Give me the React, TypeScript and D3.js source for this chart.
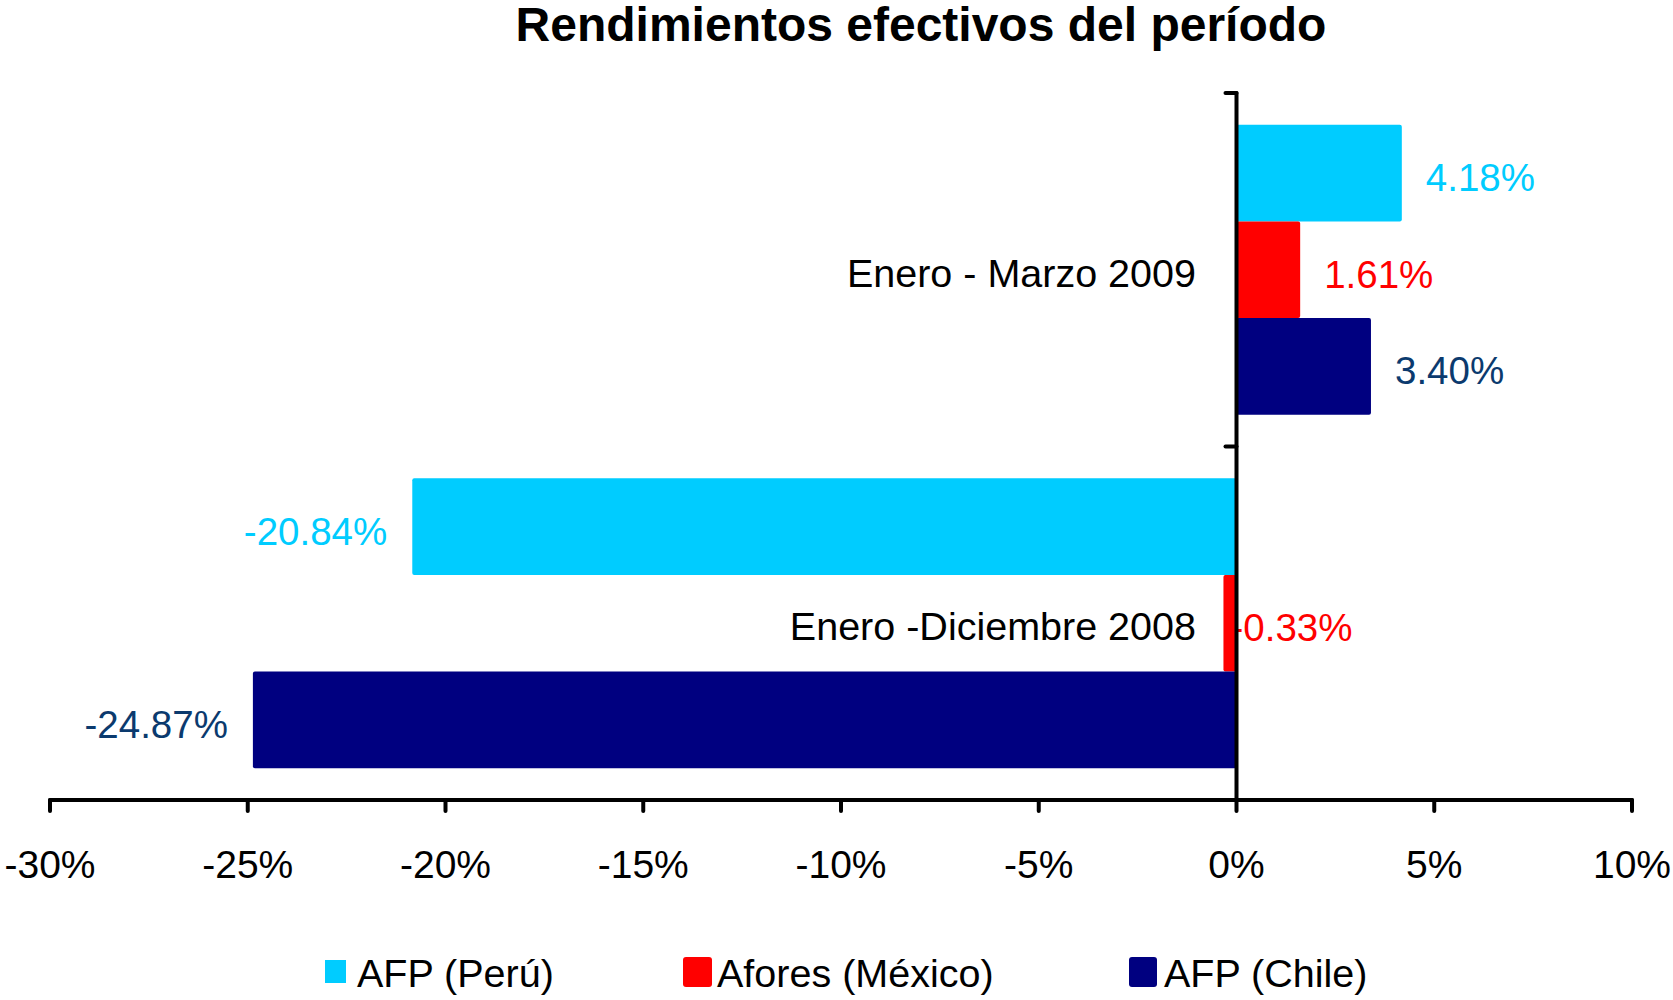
import React from 'react';
import * as d3 from 'd3';

// data
const categories = ['Enero - Marzo 2009', 'Enero -Diciembre 2008'];
const seriesNames = ['AFP (Perú)', 'Afores (México)', 'AFP (Chile)'];
const peru = [4.18, -20.84];
const mexico = [1.61, -0.33];
const chile = [3.4, -24.87];
const xTicks = [-30, -25, -20, -15, -10, -5, 0, 5, 10];

const seriesValues = [peru, mexico, chile];
const barColors = ['#00CCFF', '#FF0000', '#000080'];
const labelColors = ['#00CCFF', '#FF0000', '#0B3A6E'];

const W = 1673;
const H = 1000;
const FONT = '"Liberation Sans", Arial, sans-serif';

const App = () => {
  const x = d3.scaleLinear().domain([-30, 10]).range([50, 1632]);
  const y = d3.scaleBand().domain(categories).range([93, 800]).paddingInner(0).paddingOuter(0);
  const inner = d3.scaleBand().domain(seriesNames).range([0, y.bandwidth()]).paddingInner(0).paddingOuter(0.33);
  const x0 = x(0);

  const fmt = (v: number) => `${v.toFixed(2)}%`;

  // legend layout
  const legendItems = [
    { sq: 325, w: 21, h: 23, top: 960, tx: 357, rx: 0 },
    { sq: 683, w: 29, h: 30, top: 957, tx: 717, rx: 3 },
    { sq: 1129, w: 28, h: 30, top: 957, tx: 1164, rx: 3 },
  ];

  return (
    <svg width={W} height={H} style={{ position: 'absolute', left: 0, top: 0, background: '#fff' }} fontFamily={FONT}>
      <text x={921} y={41} textAnchor="middle" fontSize={48} fontWeight="bold" fill="#000">
        Rendimientos efectivos del período
      </text>

      {/* bars */}
      {seriesValues.map((vals, si) =>
        vals.map((v, ci) => {
          const by = (y(categories[ci]) as number) + (inner(seriesNames[si]) as number);
          const bh = inner.bandwidth();
          return (
            <rect
              key={`b${si}-${ci}`}
              x={Math.min(x(v), x0)}
              y={by}
              width={Math.abs(x(v) - x0)}
              height={bh}
              rx={2}
              fill={barColors[si]}
            />
          );
        })
      )}

      {/* value labels */}
      {seriesValues.map((vals, si) =>
        vals.map((v, ci) => {
          const cy = (y(categories[ci]) as number) + (inner(seriesNames[si]) as number) + inner.bandwidth() / 2;
          const small = v < 0 && v > -1;
          const lx = small ? x0 - 6 : v >= 0 ? x(v) + 24 : x(v) - 25;
          const anchor = small || v >= 0 ? 'start' : 'end';
          return (
            <text key={`l${si}-${ci}`} x={lx} y={cy + 18} textAnchor={anchor} fontSize={38.5} fill={labelColors[si]}>
              {fmt(v)}
            </text>
          );
        })
      )}

      {/* category labels */}
      {categories.map((c) => (
        <text
          key={c}
          x={1196}
          y={(y(c) as number) + y.bandwidth() / 2 + 17}
          textAnchor="end"
          fontSize={39.5}
          fill="#000"
        >
          {c}
        </text>
      ))}

      {/* x axis */}
      <g stroke="#000" strokeWidth={4} strokeLinecap="round">
        <line x1={x(-30)} x2={x(10)} y1={800} y2={800} />
        {xTicks.map((t) => (
          <line key={t} x1={x(t)} x2={x(t)} y1={800} y2={811} />
        ))}
      </g>
      {xTicks.map((t) => (
        <text key={`t${t}`} x={x(t)} y={878} textAnchor="middle" fontSize={39} fill="#000">
          {`${t}%`}
        </text>
      ))}

      {/* category axis at zero */}
      <g stroke="#000" strokeWidth={4} strokeLinecap="round">
        <line x1={x0} x2={x0} y1={93} y2={800} />
        {[...categories.map((c) => y(c) as number), 800].map((ty, i) => (
          <line key={i} x1={x0 - 11} x2={x0} y1={ty} y2={ty} />
        ))}
      </g>

      {/* legend */}
      {seriesNames.map((s, i) => {
        const it = legendItems[i];
        return (
          <g key={s}>
            <rect x={it.sq} y={it.top} width={it.w} height={it.h} rx={it.rx} fill={barColors[i]} />
            <text x={it.tx} y={987} fontSize={39.5} fill="#000">
              {s}
            </text>
          </g>
        );
      })}
    </svg>
  );
};

export default App;
